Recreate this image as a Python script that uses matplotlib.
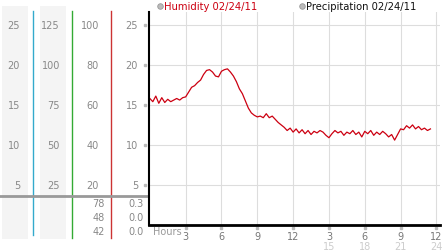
import numpy as np
import matplotlib
matplotlib.use("Agg")
import matplotlib.pyplot as plt
from matplotlib.transforms import blended_transform_factory

# humidity samples, one every 15 minutes from midnight
step_hours = 0.25
humidity = [
    15.8, 15.4, 16.1, 15.2, 15.9, 15.3, 15.7, 15.4, 15.6, 15.8, 15.6, 15.9,
    16.0, 16.6, 17.2, 17.4, 17.8, 18.1, 18.8, 19.3, 19.4, 19.1, 18.6, 18.5,
    19.2, 19.4, 19.5, 19.1, 18.6, 17.9, 17.0, 16.4, 15.5, 14.6, 14.0, 13.7,
    13.5, 13.6, 13.4, 13.9, 13.4, 13.6, 13.2, 12.8, 12.5, 12.2, 11.8, 12.1,
    11.6, 12.0, 11.5, 11.9, 11.4, 11.8, 11.3, 11.7, 11.5, 11.8, 11.6, 11.2,
    10.9, 11.4, 11.8, 11.5, 11.7, 11.2, 11.6, 11.4, 11.8, 11.3, 11.6, 11.0,
    11.7, 11.4, 11.8, 11.2, 11.6, 11.3, 11.7, 11.4, 11.0, 11.3, 10.6, 11.3,
    12.0, 11.9, 12.4, 12.1, 12.5, 12.0, 12.3, 11.9, 12.1, 11.8, 12.0,
]
hours = np.arange(len(humidity)) * step_hours

y_ticks = [5, 10, 15, 20, 25]
col1_labels = ["5", "10", "15", "20", "25"]
col2_labels = ["25", "50", "75", "100", "125"]
col3_labels = ["20", "40", "60", "80", "100"]
col4_labels = ["5", "10", "15", "20", "25"]
x_ticks = [3, 6, 9, 12, 15, 18, 21, 24]
x_labels = ["3", "6", "9", "12", "3", "6", "9", "12"]
x_labels_24 = ["", "", "", "", "15", "18", "21", "24"]
col3_extra = ["78", "48", "42"]
col4_extra = ["0.3", "0.0", "0.0"]

W, H = 442, 253
fig = plt.figure(figsize=(W / 100, H / 100), dpi=100)

# background axes in pixel coordinates
bg = fig.add_axes([0, 0, 1, 1])
bg.set_xlim(0, W)
bg.set_ylim(H, 0)
bg.axis("off")

ax = fig.add_axes([149 / W, (H - 226) / H, (440 - 149) / W, (226 - 13) / H])
ax.set_xlim(-0.07, 24.3)
ax.set_ylim(0, 26.6)
ax.plot(hours, humidity, color="#cc0011", lw=0.9)

ax.set_xticks(x_ticks)
ax.set_yticks(y_ticks)
ax.grid(True, color="#dddddd", lw=0.8)
ax.tick_params(length=0, labelbottom=False, labelleft=False)
for s in ["top", "right"]:
    ax.spines[s].set_visible(False)
ax.spines["left"].set_linewidth(1.5)
ax.spines["bottom"].set_linewidth(2)
ax.set_axisbelow(True)

# left scale panel
bg.add_patch(plt.Rectangle((2, 7), 26, 233, color="#f4f4f4", lw=0))
bg.add_patch(plt.Rectangle((40, 7), 26, 233, color="#f4f4f4", lw=0))
bg.plot([33, 33], [12, 236], color="#33aacc", lw=1)
bg.plot([72, 72], [12, 239], color="#33aa33", lw=1)
bg.plot([111, 111], [12, 239], color="#cc3333", lw=1)
bg.plot([0, 149], [197, 197], color="#999999", lw=2)

tr = blended_transform_factory(bg.transData, ax.transData)
fs = 7
for v, a, b, c, d in zip(y_ticks, col1_labels, col2_labels, col3_labels, col4_labels):
    bg.text(20, v, a, transform=tr, ha="right", va="center", fontsize=fs, color="#888888")
    bg.text(60, v, b, transform=tr, ha="right", va="center", fontsize=fs, color="#888888")
    bg.text(99, v, c, transform=tr, ha="right", va="center", fontsize=fs, color="#888888")
    bg.text(138, v, d, transform=tr, ha="right", va="center", fontsize=fs, color="#888888")
    bg.plot([145], [v], transform=tr, marker="s", ms=2, color="#bbbbbb", clip_on=False)

for yy, a, b in zip([204, 218, 232], col3_extra, col4_extra):
    bg.text(105, yy, a, ha="right", va="center", fontsize=fs, color="#888888")
    bg.text(144, yy, b, ha="right", va="center", fontsize=fs, color="#888888")

# hour labels
trx = blended_transform_factory(ax.transData, bg.transData)
bg.text(153, 232, "Hours", ha="left", va="center", fontsize=fs, color="#999999")
for t, a, b in zip(x_ticks, x_labels, x_labels_24):
    bg.plot([t], [229], transform=trx, marker="s", ms=2, color="#bbbbbb", clip_on=False)
    bg.text(t, 237, a, transform=trx, ha="center", va="center", fontsize=fs, color="#777777")
    bg.text(t, 247, b, transform=trx, ha="center", va="center", fontsize=fs, color="#cccccc")

# legend
bg.plot([160], [7], marker="o", ms=4, mfc="#bbbbbb", mec="#999999", mew=0.6)
bg.text(164, 7, "Humidity 02/24/11", ha="left", va="center", fontsize=7.2, color="#cc0011")
bg.plot([302], [7], marker="o", ms=4, mfc="#bbbbbb", mec="#999999", mew=0.6)
bg.text(306, 7, "Precipitation 02/24/11", ha="left", va="center", fontsize=7.2, color="#111111")

fig.savefig("out.png", dpi=100)
